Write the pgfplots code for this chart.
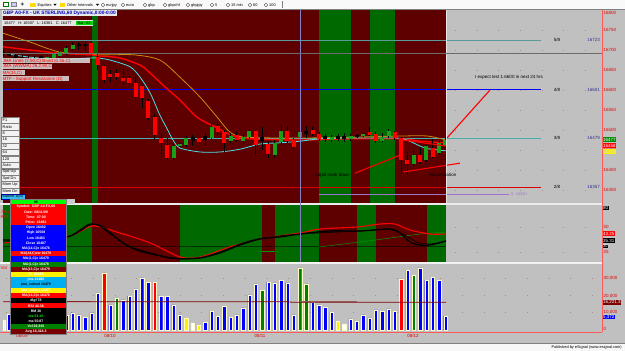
\documentclass[border=0pt]{standalone}
\usepackage{pgfplots}
\pgfplotsset{compat=1.18}
\usepackage{pgfplotstable}
\usepackage{fontspec}
\setmainfont{Liberation Sans}

\definecolor{bgred}{HTML}{5E0000}
\definecolor{bggreen}{HTML}{006A00}
\definecolor{pgray}{HTML}{C0C0C0}
\definecolor{cgreen}{HTML}{18A018}
\definecolor{cred}{HTML}{FF0000}
\definecolor{macyan}{HTML}{48E0E8}
\definecolor{maorange}{HTML}{C88A10}
\definecolor{lblred}{HTML}{E00000}
\definecolor{avgred}{HTML}{7A0000}
\definecolor{tealline}{HTML}{5A9A9A}
\definecolor{dotc}{HTML}{B08888}
\definecolor{lvlblue}{HTML}{303090}
\definecolor{vblue}{HTML}{0000FF}
\definecolor{vgreen}{HTML}{008000}
\definecolor{purp}{HTML}{A070D0}

\newcommand{\fA}{\fontsize{4.5}{5}\selectfont}
\newcommand{\fB}{\fontsize{3.5}{4}\selectfont\bfseries}
\newcommand{\fC}{\fontsize{3.9}{4.5}\selectfont}

% ---------- candles: i, body top, body bottom, high, low ----------
\pgfplotstableread{
i top bot hi lo
14 16718 16688 16720 16685
15 16682 16662 16690 16650
16 16660 16625 16662 16618
17 16640 16632 16650 16620
18 16642 16632 16652 16625
19 16630 16622 16655 16615
20 16630 16618 16635 16612
21 16618 16582 16635 16575
22 16610 16580 16612 16555
23 16572 16530 16578 16525
24 16532 16488 16540 16475
25 16480 16468 16492 16438
26 16462 16430 16480 16425
31 16480 16470 16482 16468
34 16510 16495 16522 16488
35 16495 16468 16500 16445
37 16488 16475 16495 16470
40 16498 16462 16500 16438
42 16465 16440 16472 16430
45 16498 16472 16510 16468
46 16475 16458 16480 16452
49 16500 16490 16508 16485
50 16490 16478 16495 16472
58 16495 16488 16508 16485
59 16490 16472 16495 16468
62 16495 16480 16498 16475
63 16480 16425 16482 16392
64 16425 16415 16445 16388
66 16438 16420 16458 16415
68 16455 16432 16478 16430
}\candred
\pgfplotstableread{
i top bot hi lo
7 16682 16670 16688 16665
8 16690 16680 16695 16675
9 16695 16685 16700 16680
10 16705 16692 16710 16688
11 16712 16702 16720 16700
27 16460 16430 16465 16425
28 16465 16460 16468 16458
29 16480 16462 16485 16458
33 16508 16480 16518 16475
36 16485 16472 16492 16468
38 16482 16472 16488 16468
39 16498 16482 16502 16478
43 16468 16438 16475 16430
44 16498 16470 16512 16462
47 16495 16482 16508 16475
52 16482 16475 16488 16470
55 16485 16478 16490 16472
57 16490 16485 16492 16482
60 16482 16472 16492 16470
61 16498 16485 16502 16480
65 16438 16415 16448 16410
67 16460 16425 16462 16420
69 16468 16442 16472 16440
70 16475 16460 16485 16458
}\candgreen
\pgfplotstableread{
i top bot hi lo
0 16695 16690 16700 16685
1 16692 16685 16698 16680
2 16688 16680 16692 16675
3 16682 16675 16688 16670
4 16680 16670 16688 16665
5 16680 16670 16685 16668
6 16685 16670 16688 16668
12 16715 16710 16720 16700
13 16715 16710 16720 16698
30 16482 16472 16488 16460
32 16485 16475 16492 16462
41 16482 16472 16508 16450
48 16498 16490 16510 16480
51 16485 16478 16490 16470
53 16485 16478 16490 16472
54 16485 16478 16492 16470
56 16488 16482 16490 16480
}\candblack

% ---------- volume ----------
\pgfplotstableread{
i v
1 9000
2 11000
3 8000
4 10000
5 12000
6 9500
7 8000
8 10500
9 9000
10 8670
11 9830
12 8670
13 7510
14 9830
15 21390
17 14450
19 17340
20 19650
21 23700
22 30060
23 27740
25 19650
26 19650
27 14450
28 8670
32 4620
33 10980
34 8090
35 13870
36 7510
37 8670
38 12720
39 20230
40 26590
42 27740
43 27170
44 28900
45 27170
46 8670
49 16180
50 14450
51 13290
52 10400
55 6360
56 5200
57 8670
58 6940
59 11560
60 10980
61 12140
62 10980
64 34680
66 35840
67 28900
68 30630
69 28900
70 8090
}\volblue
\pgfplotstableread{
i v
16 32950
24 27740
63 29480
}\volred
\pgfplotstableread{
i v
18 18500
41 23120
47 35840
48 26590
65 31790
}\volgreen
\pgfplotstableread{
i v
29 6940
31 2890
53 5200
}\volyellow
\pgfplotstableread{
i v
0 5780
30 4050
54 3470
}\volwhite

\pgfplotsset{
  panel/.style={scale only axis, width=599pt, xmin=0, xmax=94.78, hide axis, clip=true},
  wick/.style={quiver={u=0, v={\thisrow{hi}-\thisrow{lo}}}, -, line width=0.8pt, draw=black},
  body/.style={quiver={u=0, v={\thisrow{top}-\thisrow{bot}}}, -, line width=4pt},
  vbar/.style={ybar, bar shift=0pt, bar width=3.4pt, draw=white!80!yellow, line width=0.35pt},
}

\newcommand{\btn}[2]{\fill[white!90!gray] (1,{#1-3.1}) rectangle (19,{#1+3.1});
  \draw[gray, line width=0.3pt] (1,{#1-3.1}) rectangle (19,{#1+3.1});
  \node[anchor=west, font=\fC, inner sep=0] at (2.5,#1) {#2};}
\newcommand{\drow}[4]{\fill[#2] (10,{201.8+5.2*#1-2.6}) rectangle (66,{201.8+5.2*#1+2.6});
  \node[text=#3, font=\fB, inner sep=0] at (36,{201.8+5.2*#1}) {#4};}
\newcommand{\tbtn}[2]{\draw[black!70, line width=0.3pt] (#1,5) circle (1.9);
  \node[anchor=west, font=\fC, inner sep=0] at ({#1+3},5) {#2};}

\begin{document}
\begin{tikzpicture}
\clip (0pt,0pt) rectangle (625pt,351pt);
\fill[pgray] (0pt,0pt) rectangle (625pt,351pt);

% ================= PRICE PANEL =================
\begin{axis}[panel, at={(3pt,148pt)}, anchor=south west, height=193pt,
  ymin=16317.5, ymax=16800]
\fill[bgred] (axis cs:0,16317.5) rectangle (axis cs:70.09,16800);
\fill[bggreen] (axis cs:14.08,16317.5) rectangle (axis cs:15.03,16800);
\fill[bggreen] (axis cs:50.0,16317.5) rectangle (axis cs:55.06,16800);
\fill[bggreen] (axis cs:58.07,16317.5) rectangle (axis cs:62.03,16800);
\pgfplotsinvokeforeach{16350,16400,16450,16500,16550,16600,16650,16700,16750}{
  \draw[dotc, line width=0.8pt, dash pattern=on 0.8pt off 20.9pt] (axis cs:71.5,#1) -- (axis cs:94.78,#1);}
% Murrey-type levels
\addplot[tealline, line width=0.9pt] coordinates {(0,16723) (85.1,16723)};
\addplot[color=vblue, line width=1pt] coordinates {(0,16601) (85.1,16601)};
\addplot[tealline!80!cyan, line width=0.9pt] coordinates {(0,16479) (85.1,16479)};
\addplot[red!85!black, line width=0.6pt] coordinates {(0,16357) (85.1,16357)};
\addplot[purp, line width=0.7pt] coordinates {(50,16340) (80.1,16340)};
% moving averages
\addplot[maorange, line width=0.8pt, smooth, tension=0.5] coordinates {
 (0,16742) (4.27,16720) (9.0,16695) (15.35,16688) (20.6,16688) (24.8,16675) (28.0,16632)
 (31.2,16582) (33.9,16532) (35.9,16495) (38.3,16482) (47.0,16480) (54.9,16482) (63.3,16485)
 (67.1,16485) (70.1,16475)};
\addplot[cred, line width=1.4pt, smooth, tension=0.5] coordinates {
 (0,16708) (4.27,16700) (9.02,16692) (13.77,16688) (15.35,16685) (18.5,16680) (21.7,16662)
 (23.3,16642) (25.6,16608) (28.0,16575) (30.7,16532) (33.9,16505) (36.4,16485) (39.1,16478)
 (47.0,16475) (54.9,16478) (62.8,16478) (66.0,16472) (70.1,16468)};
\addplot[macyan, line width=0.8pt, smooth, tension=0.5] coordinates {
 (0,16692) (4.27,16682) (9.02,16677) (13.77,16680) (14.87,16680) (16.9,16675) (20.1,16658)
 (21.7,16632) (23.3,16592) (24.8,16538) (25.9,16505) (26.9,16475) (28.0,16455) (31.2,16445)
 (34.3,16445) (37.5,16452) (40.7,16465) (43.8,16468) (47.0,16472) (50.2,16478) (54.9,16480)
 (59.7,16480) (63.3,16478) (66.8,16455) (70.1,16448)};
% candles
\addplot[wick] table[x=i, y=lo] {\candblack};
\addplot[wick] table[x=i, y=lo] {\candred};
\addplot[wick] table[x=i, y=lo] {\candgreen};
\addplot[body, draw=black] table[x=i, y=bot] {\candblack};
\addplot[body, draw=cred] table[x=i, y=bot] {\candred};
\addplot[body, draw=cgreen] table[x=i, y=bot] {\candgreen};
% hand-drawn annotations
\addplot[cred, line width=1.1pt] coordinates {(55.7,16392) (62.8,16437)};
\addplot[cred, line width=1.1pt] coordinates {(63.3,16395) (72.3,16417)};
\addplot[cred, line width=1.1pt] coordinates {(63.3,16475) (70.1,16460)};
\addplot[cred, line width=1.1pt] coordinates {(70.25,16480) (77.06,16600)};
\end{axis}

% ================= RSI PANEL =================
\begin{axis}[panel, at={(3pt,89pt)}, anchor=south west, height=57pt, ymin=15, ymax=72]
\fill[bggreen] (axis cs:0,15) rectangle (axis cs:14.08,72);
\fill[bgred] (axis cs:14.08,15) rectangle (axis cs:28.0,72);
\fill[bggreen] (axis cs:28.0,15) rectangle (axis cs:40.98,72);
\fill[bgred] (axis cs:40.98,15) rectangle (axis cs:43.04,72);
\fill[bggreen] (axis cs:43.04,15) rectangle (axis cs:50.0,72);
\fill[bgred] (axis cs:50.0,15) rectangle (axis cs:56.01,72);
\fill[bggreen] (axis cs:56.01,15) rectangle (axis cs:59.02,72);
\fill[bgred] (axis cs:59.02,15) rectangle (axis cs:67.09,72);
\fill[bggreen] (axis cs:67.09,15) rectangle (axis cs:70.09,72);
\pgfplotsinvokeforeach{25,50}{
  \draw[dotc, line width=0.8pt, dash pattern=on 0.8pt off 20.9pt] (axis cs:71.5,#1) -- (axis cs:94.78,#1);}
\addplot[black, opacity=0.55, line width=1pt] coordinates {(0,30) (70.09,30)};
\addplot[green!60!black, line width=0.5pt] coordinates {(41,26) (43,26)};
\addplot[green!60!black, line width=0.5pt] coordinates {(50,30) (59,37) (66,43) (70.09,45)};
\addplot[cred, line width=1.1pt, smooth, tension=0.5] coordinates {
 (0,34) (10.1,40) (14.1,51) (18.5,44) (23.3,34) (28.0,20) (31.2,20) (35.9,30) (40.7,38)
 (47.0,44) (50.2,48) (56.0,50) (59.7,53) (62.0,53) (64.4,47) (67.6,43) (70.1,43)};
\addplot[black, line width=0.7pt, smooth, tension=0.5] coordinates {
 (0,35) (10.1,40) (13.8,52) (16,50) (18.5,36) (21,27) (24,22) (28,18.5) (31.2,19.5) (34.3,25)
 (37.5,33) (40.7,38.5) (47,43) (56.5,46) (61.2,47.5) (63.5,42) (65.5,35) (67.6,33) (70.1,36)};
\addplot[black, line width=1.3pt, smooth, tension=0.5] coordinates {
 (0,37) (4.3,37) (10.1,40) (12.2,47) (13.8,53) (15.3,51) (17.7,40) (20.1,30) (23.3,24) (26.4,19)
 (28.0,18) (31.2,19) (34.3,24) (37.5,32) (40.7,38) (43.8,40) (47.0,43) (51.7,46) (56.5,46)
 (61.2,48) (62.8,44) (64.4,35) (66.0,32) (67.6,32) (70.1,36)};
\end{axis}

% ================= VOLUME PANEL =================
\begin{axis}[panel, at={(3pt,19pt)}, anchor=south west, height=68pt, ymin=-1156, ymax=38150]
\pgfplotsinvokeforeach{10000,20000,30000}{
  \draw[dotc, line width=0.8pt, dash pattern=on 0.8pt off 20.9pt] (axis cs:0.5,#1) -- (axis cs:94.78,#1);}
\addplot[vbar, fill=vblue] table[x=i, y=v] {\volblue};
\addplot[vbar, fill=cred] table[x=i, y=v] {\volred};
\addplot[vbar, fill=vgreen] table[x=i, y=v] {\volgreen};
\addplot[vbar, fill=yellow] table[x=i, y=v] {\volyellow};
\addplot[vbar, fill=white] table[x=i, y=v] {\volwhite};
\addplot[gray!80!red, line width=0.8pt] coordinates {(10,16600) (14,16600)};
\addplot[gray!80!red, line width=0.8pt] coordinates {(47,16500) (56,16500)};
\addplot[avgred, line width=0.8pt] coordinates {(0,16300) (45,16300) (46,16000) (70.1,16000)};
\end{axis}

% ================= OVERLAYS (image pixel coordinates) =================
\begin{scope}[shift={(0pt,351pt)}, x=1pt, y=-1pt]
% separators and axis lines
\fill[white!85!gray] (0,203) rectangle (602,205);
\fill[white!90!gray] (0,262) rectangle (602,264);
\draw[white!80!gray, line width=0.8pt] (446.8,10) -- (446.8,203);
\draw[gray!60!blue!70!white, line width=0.5pt] (300,10) -- (300,262);
\draw[gray!85!black, line width=0.6pt] (3,53) -- (602,53);
\draw[red!65!white, line width=0.6pt] (0,332) -- (602,332);
\draw[red!65!white, line width=0.6pt] (602,10) -- (602,332);

% level labels
\foreach \yy/\a/\b in {40/5\slash8/16723, 90/4\slash8/16601, 138/3\slash8/16479, 187/2\slash8/16357}{
  \node[font=\fA, inner sep=0] at (557,\yy) {\a};
  \node[font=\fA, text=lvlblue, anchor=east, inner sep=0] at (600,\yy) {\b};}
\node[font=\fC, text=purp, anchor=west, inner sep=0] at (511,194) {0: 16340};
\node[font=\fA, inner sep=0] at (509,77) {I expect test 1.6600 in next 24 hrs};
\node[font=\fA, inner sep=0] at (333,175) {rapid mark down};
\node[font=\fA, inner sep=0] at (443,175) {accumulation};

% price scale
\foreach \yy/\t in {13/16800, 30/16750, 50/16700, 70/16650, 90/16600, 110/16550, 130/16500, 150/16450, 170/16400, 190/16350}{
  \node[font=\fA, text=lblred, anchor=west, inner sep=0] at (603.5,\yy) {\t};}
\node[font=\fA, fill=green!55!black, text=white, anchor=west, inner sep=0.5pt] at (602.5,139.5) {16477};
\node[font=\fA, fill=red, text=white, anchor=west, inner sep=0.5pt] at (602.5,145.5) {16458};
\node[font=\fA, fill=yellow, text=white!60!gray, anchor=west, inner sep=0.5pt] at (602.5,151.5) {16447};
% RSI scale
\node[font=\fA, fill=black, text=white, anchor=west, inner sep=0.5pt] at (602.5,208) {80};
\node[font=\fA, text=lblred, anchor=west, inner sep=0] at (603.5,227) {50};
\node[font=\fA, fill=red, text=white, anchor=west, inner sep=0.5pt] at (602.5,233.5) {43.25};
\node[font=\fA, fill=black, text=white, anchor=west, inner sep=0.5pt] at (602.5,240.5) {35.31};
\node[font=\fC, fill=black, text=white, anchor=west, inner sep=0.4pt] at (602.5,246.5) {30};
\node[font=\fA, text=lblred, anchor=west, inner sep=0] at (603.5,252) {25};
% volume scale
\node[font=\fA, text=lblred, anchor=west, inner sep=0] at (603.5,278) {30,000};
\node[font=\fA, text=lblred, anchor=west, inner sep=0] at (603.5,296) {20,000};
\node[font=\fA, fill=avgred, text=white, anchor=west, inner sep=0.5pt] at (602.5,302.5) {16,221.3};
\node[font=\fA, text=lblred, anchor=west, inner sep=0] at (603.5,312) {10,000};
\node[font=\fA, fill=blue, text=white, anchor=west, inner sep=0.5pt] at (602.5,317) {5,372};
\node[font=\fA, text=lblred, anchor=west, inner sep=0] at (603.5,329) {0};

% date labels
\foreach \xx/\t in {22/08\slash09, 110/08\slash10, 260/08\slash11, 413/08\slash12}{
  \node[font=\fA, text=lblred, inner sep=0] at (\xx,336) {\t};}

% bottom bar
\fill[white!94!gray] (0,343) rectangle (625,351);
\draw[gray, line width=0.5pt] (0,343) -- (625,343);
\node[font=\fC, anchor=east, inner sep=0] at (622,347.3) {Published by eSignal (www.esignal.com)};

% toolbar
\fill[white!95!gray] (0,0) rectangle (625,9.5);
\draw[gray, line width=0.5pt] (0,9.5) -- (625,9.5);
\fill[green!45!black] (3,2) rectangle (8.5,7.5);
\fill[white] (4,3) rectangle (7.5,6.5);
\fill[gray] (11,2) rectangle (16.5,7.5);
\fill[white!80!blue] (12,3) rectangle (15.5,6.5);
\node[font=\bfseries\fontsize{6}{6}\selectfont, inner sep=0] at (22.5,5) {+};
\fill[yellow!80!orange] (30,2.8) rectangle (35.5,7.2);
\node[font=\fC, anchor=west, inner sep=0] at (37.5,5) {Equities};
\fill (53.5,4) -- (56.5,4) -- (55,5.8) -- cycle;
\fill[yellow!80!orange] (59.5,2.8) rectangle (65,7.2);
\node[font=\fC, anchor=west, inner sep=0] at (67,5) {Other Intervals};
\fill (96,4) -- (99,4) -- (97.5,5.8) -- cycle;
\tbtn{103}{eurjpy}
\tbtn{123}{euro}
\tbtn{145}{gbp}
\tbtn{165}{gbpchf}
\tbtn{188}{gbpjpy}
\tbtn{212}{5}
\tbtn{228}{15 min}
\tbtn{250}{60}
\tbtn{266}{100}
\draw[gray, line width=0.4pt] (282,1) -- (282,8.5);

% title boxes
\fill[white!82!gray] (2,10.5) rectangle (117,16.5);
\node[font=\fontsize{4.8}{5}\selectfont\bfseries, text=blue!75!black, anchor=west, inner sep=0] at (3,13.5) {GBP A0-FX - UK STERLING,60 Dynamic,0:00-0:00};
\fill[white!80!gray] (2,20.5) rectangle (93,26);
\node[font=\fC, anchor=west, inner sep=0] at (4,23.3) {16477 \ \ H: 16507 \ \ L: 16381 \ \ C: 16477};
\fill[green!85!black] (76,21) rectangle (92.5,25.5);
\node[font=\fC, anchor=west, inner sep=0] at (77.5,23.3) {Bar: 83};

% study legends
\fill[white!75!gray, opacity=0.85] (2,58.5) rectangle (90,63.5);
\node[font=\fA, text=red, anchor=west, inner sep=0] at (2.5,61) {JMA Lines (7,50,C) Band (0.35,C)};
\fill[white!75!gray, opacity=0.85] (2,64) rectangle (52,69);
\node[font=\fA, text=red, anchor=west, inner sep=0] at (2.5,66.5) {JMA (WWMA) 26,2,90,C};
\fill[white!75!gray, opacity=0.85] (2,70.5) rectangle (25,75.5);
\node[font=\fA, text=red, anchor=west, inner sep=0] at (2.5,73) {MA(34,C)};
\fill[white!75!gray, opacity=0.85] (2,76.5) rectangle (69,81.5);
\node[font=\fA, text=red, anchor=west, inner sep=0] at (2.5,79) {MTF - Support Resistance (D)};

% button column
\btn{120.2}{F1}
\btn{126.7}{Ratio}
\btn{133.1}{8}
\btn{139.6}{16}
\btn{146.0}{32}
\btn{152.5}{64}
\btn{158.9}{128}
\btn{165.4}{Auto}
\btn{171.8}{Spd Up}
\btn{178.3}{Spd Dn}
\btn{184.7}{Mom Up}
\btn{191.2}{Mom Dn}
\fill[cyan!80!white] (1,194.6) rectangle (25,199);
\draw[blue!70!black, line width=0.3pt] (1,194.6) rectangle (25,199);
\node[font=\fC, anchor=west, inner sep=0] at (2.5,196.8) {Motive 1(M)};

% panel titles at left
\node[font=\fA, text=red, anchor=west, inner sep=0] at (0.5,212) {Jma};
\node[font=\fA, text=red, anchor=west, inner sep=0] at (0.5,217) {RSI};
\node[font=\fA, text=red, anchor=west, inner sep=0] at (0.5,268) {Vol};

% data window
\fill[white!60!gray] (66,199.2) rectangle (75,204.4);
\drow{0}{green}{black}{08}
\drow{1}{red}{white}{Symbol: GBP A0-FX,60}
\drow{2}{red}{white}{Date: 08/11/09}
\drow{3}{red}{white}{Time: 07:00}
\drow{4}{red}{white}{Price: 16492}
\drow{5}{blue}{white}{Open 16492}
\drow{6}{blue}{white}{High 16508}
\drow{7}{blue}{white}{Low 16483}
\drow{8}{blue}{white}{Close 16487}
\drow{9}{blue}{white}{MA(14,C)e 16476}
\drow{10}{red}{white}{MA(14,C)ew 16476}
\drow{11}{blue}{white}{MA(1,C)e 16479}
\drow{12}{vgreen}{white}{MA(1,C)e 16478}
\drow{13}{avgred}{white}{MA(13,C)e 16479}
\drow{14}{yellow}{white}{FL 16480}
\drow{15}{cyan}{white}{jma 16480}
\drow{16}{cyan}{black}{jma\_solved 16479}
\drow{17}{yellow}{white}{jma\_solved 16477}
\drow{18}{red}{white}{MA(14,C)e 16476}
\drow{19}{black}{white}{dlgf 78}
\drow{20}{red}{white}{RSI 44.36}
\drow{21}{black}{white}{RM 30}
\drow{22}{black}{green}{ma 51.15}
\drow{23}{black}{white}{ma 50.87}
\drow{24}{vgreen}{white}{Vol 26,915}
\drow{25}{avgred}{white}{Avg 16,324.3}
\draw[gray, line width=0.3pt] (10,199.2) rectangle (66,333.8);
\end{scope}
\end{tikzpicture}
\end{document}
